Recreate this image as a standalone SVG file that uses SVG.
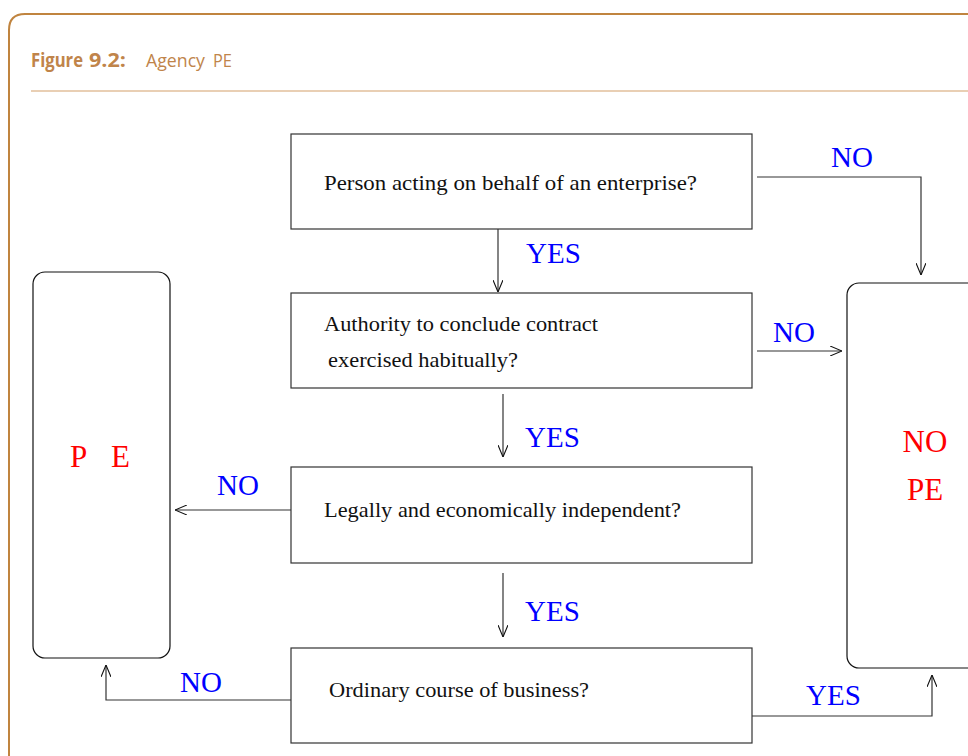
<svg xmlns="http://www.w3.org/2000/svg" width="968" height="756" viewBox="0 0 968 756">
<defs>
<style>
.frame{fill:none;stroke:#c0843f;stroke-width:2}
.box{fill:#fff;stroke:#333;stroke-width:1.2}
.rbox{fill:#fff;stroke:#111;stroke-width:1.2}
.q{font-family:"Liberation Serif",serif;font-size:21px;fill:#111}
.lbl{font-family:"Liberation Serif",serif;font-size:29px;fill:#0000ff}
.res{font-family:"Liberation Serif",serif;font-size:31px;fill:#ff0000}
.conn{fill:none;stroke:#333;stroke-width:1.2}
.ttl{font-family:"Open Sans",sans-serif;font-size:19px;fill:#c0844a}
</style>
<marker id="ah" viewBox="0 0 12 10" refX="12" refY="5" markerWidth="12" markerHeight="10" markerUnits="userSpaceOnUse" orient="auto">
<path d="M0,0 L12,5 L0,10" fill="none" stroke="#111" stroke-width="1.1"/>
</marker>
</defs>
<rect width="968" height="756" fill="#fff"/>
<path class="frame" d="M9,756 V30 Q9,14 25,14 H968"/>
<text class="ttl" y="67"><tspan x="31" font-weight="bold" textLength="52" lengthAdjust="spacingAndGlyphs">Figure</tspan><tspan x="89" font-weight="bold" textLength="37" lengthAdjust="spacingAndGlyphs">9.2:</tspan><tspan x="146" textLength="59" lengthAdjust="spacingAndGlyphs">Agency</tspan><tspan x="213" textLength="19" lengthAdjust="spacingAndGlyphs">PE</tspan></text>
<line x1="31" y1="91" x2="968" y2="91" stroke="#d4a06a" stroke-width="1.2"/>
<g id="q1"><rect class="box" x="291" y="134" width="461" height="95"/><text class="q" x="324" y="190" textLength="373" lengthAdjust="spacingAndGlyphs">Person acting on behalf of an enterprise?</text></g>
<g id="q2"><rect class="box" x="291" y="293" width="461" height="95"/><text class="q" x="324" y="331" textLength="274" lengthAdjust="spacingAndGlyphs">Authority to conclude contract</text><text class="q" x="328" y="367" textLength="190" lengthAdjust="spacingAndGlyphs">exercised habitually?</text></g>
<g id="q3"><rect class="box" x="291" y="467" width="461" height="96"/><text class="q" x="324" y="517" textLength="357" lengthAdjust="spacingAndGlyphs">Legally and economically independent?</text></g>
<g id="q4"><rect class="box" x="291" y="648" width="461" height="95"/><text class="q" x="329" y="697" textLength="260" lengthAdjust="spacingAndGlyphs">Ordinary course of business?</text></g>
<g id="pe"><rect class="rbox" x="33" y="272" width="137" height="386" rx="12"/><text class="res" x="70" y="467">P</text><text class="res" x="111" y="467">E</text></g>
<g id="nope"><rect class="rbox" x="847" y="283" width="140" height="385" rx="12"/><text class="res" x="925" y="452" text-anchor="middle">NO</text><text class="res" x="925" y="500" text-anchor="middle">PE</text></g>
<g id="connectors">
<path class="conn" d="M498,229 V292" marker-end="url(#ah)"/>
<path class="conn" d="M503,394 V457" marker-end="url(#ah)"/>
<path class="conn" d="M503,573 V637" marker-end="url(#ah)"/>
<path class="conn" d="M757,177 H921 V275" marker-end="url(#ah)"/>
<path class="conn" d="M757,351 H842" marker-end="url(#ah)"/>
<path class="conn" d="M291,510 H175" marker-end="url(#ah)"/>
<path class="conn" d="M291,700 H106 V665" marker-end="url(#ah)"/>
<path class="conn" d="M752,716 H932 V675" marker-end="url(#ah)"/>
<text class="lbl" x="526" y="263">YES</text>
<text class="lbl" x="525" y="447">YES</text>
<text class="lbl" x="525" y="621">YES</text>
<text class="lbl" x="831" y="167">NO</text>
<text class="lbl" x="773" y="342">NO</text>
<text class="lbl" x="217" y="495">NO</text>
<text class="lbl" x="180" y="692">NO</text>
<text class="lbl" x="806" y="705">YES</text>
</g>
</svg>
